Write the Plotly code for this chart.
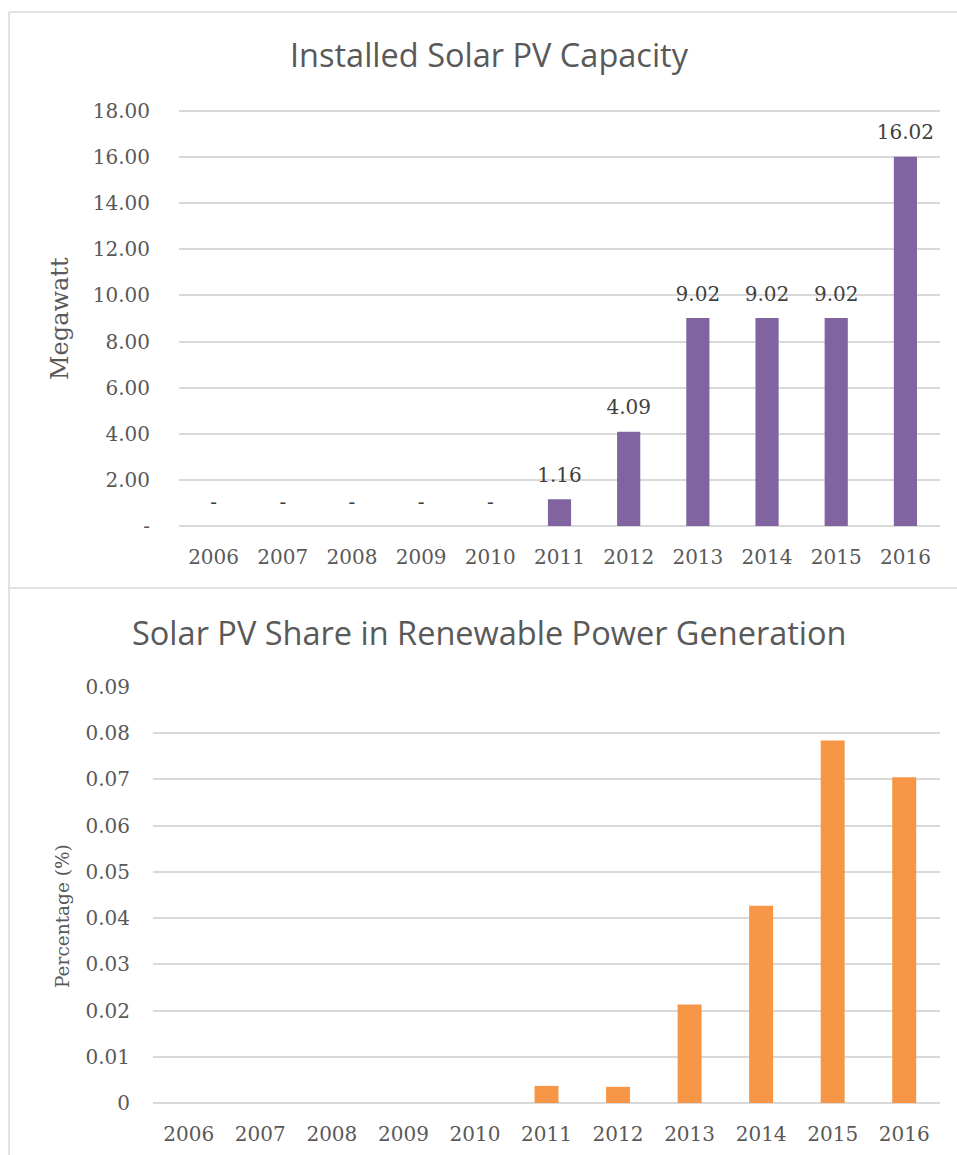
import plotly.graph_objects as go

W, H = 957, 1155

years = ["2006", "2007", "2008", "2009", "2010", "2011", "2012", "2013", "2014", "2015", "2016"]
capacity_mw = [0, 0, 0, 0, 0, 1.16, 4.09, 9.02, 9.02, 9.02, 16.02]
share_pct = [0, 0, 0, 0, 0, 0.0037, 0.0035, 0.0213, 0.0427, 0.0784, 0.0705]

cap_ticks = [0, 2, 4, 6, 8, 10, 12, 14, 16, 18]
cap_ticktext = ["-", "2.00", "4.00", "6.00", "8.00", "10.00", "12.00", "14.00", "16.00", "18.00"]
share_ticks = [0, 0.01, 0.02, 0.03, 0.04, 0.05, 0.06, 0.07, 0.08, 0.09]
share_ticktext = ["0", "0.01", "0.02", "0.03", "0.04", "0.05", "0.06", "0.07", "0.08", "0.09"]

title_top = "Installed Solar PV Capacity"
title_bottom = "Solar PV Share in Renewable Power Generation"
ytitle_top = "Megawatt"
ytitle_bottom = "Percentage (%)"

PURPLE = "#8064A2"
ORANGE = "#F79646"
GRID = "#d9d9d9"
TXT = "#595959"
SERIF = "DejaVu Serif"
SANS = "Open Sans"


def px_x(p):
    return p / W


def px_y(p):
    return 1 - p / H


cap_labels = ["-" if v == 0 else f"{v:.2f}" for v in capacity_mw]

fig = go.Figure()
fig.add_trace(go.Bar(
    x=years, y=capacity_mw, xaxis="x", yaxis="y",
    marker=dict(color=PURPLE, line=dict(width=0)),
    width=0.335,
    hoverinfo="x+y", showlegend=False,
))
# data labels (invisible markers only set the label offset above each bar)
fig.add_trace(go.Scatter(
    x=years, y=capacity_mw, xaxis="x", yaxis="y",
    mode="markers+text", text=cap_labels, textposition="top center",
    marker=dict(size=18, color="rgba(0,0,0,0)"),
    textfont=dict(family=SERIF, size=20, color="#404040"),
    cliponaxis=False, hoverinfo="skip", showlegend=False,
))
fig.add_trace(go.Bar(
    x=years, y=share_pct, xaxis="x2", yaxis="y2",
    marker=dict(color=ORANGE, line=dict(width=0)),
    width=0.335,
    hoverinfo="x+y", showlegend=False,
))

# pixel geometry
top_y0_px, top_unit = 526, (526 - 111) / 18
bot_y0_px, bot_unit = 1103, (1103 - 687) / 0.09
top_max, bot_max = 18.05, 0.0902
cat_range = [-0.5, len(years) - 0.5]

axis_common = dict(showline=False, ticks="", gridcolor=GRID, gridwidth=1.5, automargin=False,
                   zeroline=True, zerolinecolor=GRID, zerolinewidth=1.5,
                   tickfont=dict(family=SERIF, size=20, color=TXT))
xaxis_common = dict(showgrid=False, showline=False, ticks="", zeroline=False, type="category",
                    range=cat_range, automargin=False,
                    tickfont=dict(family=SERIF, size=20, color=TXT), ticklabelstandoff=17)

fig.update_layout(
    template="none",
    width=W, height=H,
    margin=dict(l=0, r=0, t=0, b=0, pad=0, autoexpand=False),
    paper_bgcolor="white", plot_bgcolor="white",
    xaxis=dict(domain=[px_x(179), px_x(940)], anchor="y", **xaxis_common),
    yaxis=dict(domain=[px_y(top_y0_px), px_y(top_y0_px - top_max * top_unit)],
               anchor="x", range=[0, top_max], tickvals=cap_ticks, ticktext=cap_ticktext,
               ticklabelstandoff=28, **axis_common),
    xaxis2=dict(domain=[px_x(153), px_x(940)], anchor="y2", **xaxis_common),
    yaxis2=dict(domain=[px_y(bot_y0_px), px_y(bot_y0_px - bot_max * bot_unit)],
                anchor="x2", range=[0, bot_max], tickvals=share_ticks, ticktext=share_ticktext,
                ticklabelstandoff=22, **axis_common),
    annotations=[
        dict(text=title_top, xref="paper", yref="paper", x=px_x(490), y=px_y(54),
             xanchor="center", yanchor="middle", showarrow=False,
             font=dict(family=SANS, size=32.5, color=TXT)),
        dict(text=title_bottom, xref="paper", yref="paper", x=px_x(490), y=px_y(632),
             xanchor="center", yanchor="middle", showarrow=False,
             font=dict(family=SANS, size=32.5, color=TXT)),
        dict(text=ytitle_top, xref="paper", yref="paper", x=px_x(60), y=px_y(318),
             xanchor="center", yanchor="middle", showarrow=False, textangle=-90,
             font=dict(family=SERIF, size=24, color=TXT)),
        dict(text=ytitle_bottom, xref="paper", yref="paper", x=px_x(62), y=px_y(916),
             xanchor="center", yanchor="middle", showarrow=False, textangle=-90,
             font=dict(family=SERIF, size=18.5, color=TXT)),
    ],
    shapes=[
        dict(type="line", xref="paper", yref="paper", x0=px_x(9), x1=1, y0=px_y(12), y1=px_y(12),
             line=dict(color=GRID, width=1.5)),
        dict(type="line", xref="paper", yref="paper", x0=px_x(9), x1=px_x(9), y0=px_y(12), y1=0,
             line=dict(color=GRID, width=1.5)),
        dict(type="line", xref="paper", yref="paper", x0=px_x(9), x1=1, y0=px_y(588), y1=px_y(588),
             line=dict(color=GRID, width=1.5)),
    ],
)

post = (
    "var gd=document.getElementById('{plot_id}');"
    "gd.style.position='fixed';gd.style.top='0px';gd.style.left='0px';"
    "document.documentElement.style.margin='0px';document.body.style.margin='0px';"
    "document.documentElement.style.overflow='hidden';document.body.style.overflow='hidden';"
)

fig.write_html("out.html", config={"displayModeBar": False}, post_script=post)
